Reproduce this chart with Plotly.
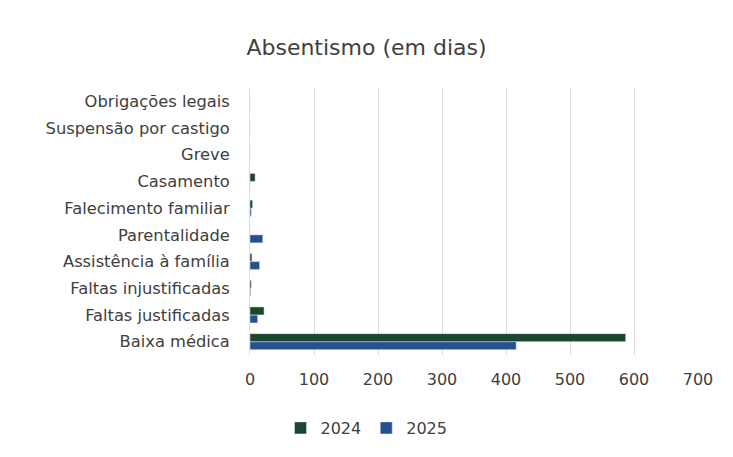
import plotly.graph_objects as go

categories = ["Baixa médica", "Faltas justificadas", "Faltas injustificadas",
              "Assistência à família", "Parentalidade", "Falecimento familiar",
              "Casamento", "Greve", "Suspensão por castigo", "Obrigações legais"]
values_2024 = [587, 22, 2, 3, 0, 4, 8, 0, 0, 0]
values_2025 = [416, 12, 1, 15, 20, 2, 0, 0, 0, 0]
tick_vals = [0, 100, 200, 300, 400, 500, 600, 700]

C2024 = "#1b4630"
C2025 = "#26508f"
FONT = "DejaVu Sans"
TXT = "#404040"

fig = go.Figure()
fig.add_trace(go.Bar(y=categories, x=values_2025, name="2025", orientation="h",
                     marker=dict(color=C2025)))
fig.add_trace(go.Bar(y=categories, x=values_2024, name="2024", orientation="h",
                     marker=dict(color=C2024)))

fig.update_layout(
    width=733, height=457,
    paper_bgcolor="white", plot_bgcolor="white",
    barmode="group", bargap=0.4, bargroupgap=0,
    margin=dict(l=250, r=35, t=88, b=102),
    font=dict(family=FONT, size=14, color=TXT),
    title=dict(text="Absentismo (em dias)", x=0.5, xref="container", xanchor="center",
               y=1 - 47 / 457, yref="container", yanchor="middle",
               font=dict(family=FONT, size=22, color=TXT)),
    xaxis=dict(range=[0, 700], tickvals=tick_vals, showgrid=True, gridcolor="#dcdce4",
               gridwidth=1, zeroline=False, showline=False, ticks="",
               ticklabelstandoff=13,
               tickfont=dict(family=FONT, size=16, color=TXT)),
    yaxis=dict(categoryorder="array", categoryarray=categories, showgrid=False,
               showline=True, linecolor="#dcdce4", ticks="", ticklabelstandoff=16,
               tickfont=dict(family=FONT, size=16.3, color=TXT)),
    legend=dict(orientation="h", x=0.5, xanchor="center", xref="container",
                y=1 - 428 / 457, yref="container", yanchor="middle", traceorder="reversed",
                font=dict(family=FONT, size=16, color=TXT), itemwidth=30),
    showlegend=True,
)
fig.write_html("out.html", config={"displayModeBar": False},
               post_script="document.body.style.margin='0';")
